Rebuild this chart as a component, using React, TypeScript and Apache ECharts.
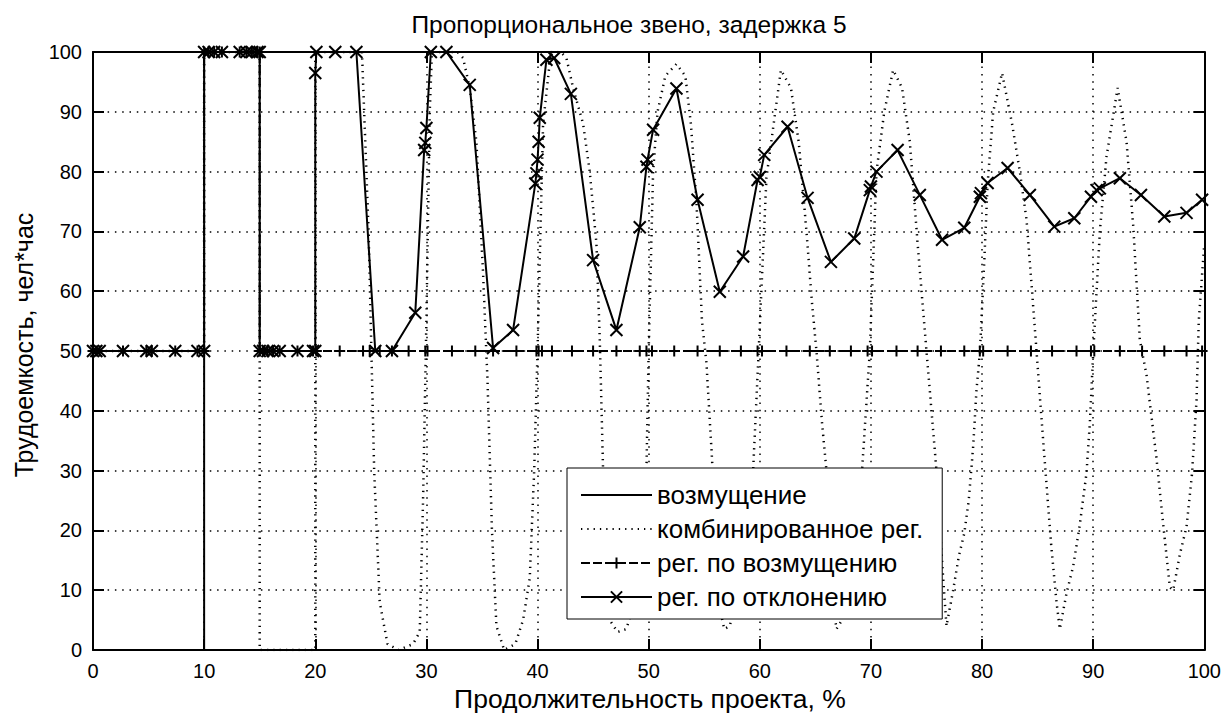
import React, { useEffect, useRef } from 'react';
import * as echarts from 'echarts';

const FONT = '"Liberation Sans", Arial, sans-serif';

const titleText = 'Пропорциональное звено, задержка 5';
const xName = 'Продолжительность проекта, %';
const yName = 'Трудоемкость, чел*час';
const seriesNames = ['возмущение', 'комбинированное рег.', 'рег. по возмущению', 'рег. по отклонению'];

// возмущение
const disturbance: number[][] = [[0, 50], [10, 50], [10, 0], [100, 0]];

// комбинированное рег.
const combined: number[][] = [
  [0, 50], [10, 50], [10, 100], [15, 100], [15, 0], [20, 0], [20, 100], [24.2, 100], [24.8, 70], [25.3, 30],
  [25.8, 8], [26.5, 1], [27.5, 0], [28.8, 1], [29.4, 3], [29.7, 25], [30, 55], [30.3, 90], [30.5, 100],
  [32.8, 100], [33.3, 99], [33.9, 94], [34.5, 85], [35.1, 63], [35.5, 45], [35.9, 20], [36.3, 4], [37, 0],
  [38, 1], [38.7, 5], [39.3, 12], [39.7, 30], [40, 50], [40.5, 88], [41.2, 100], [42.1, 100], [42.6, 99],
  [43.2, 94], [44.1, 88], [44.7, 80], [45.3, 68], [45.6, 52], [45.9, 30], [46.5, 5], [47.2, 3], [48, 3.5],
  [48.7, 8], [49.3, 14], [49.8, 30], [50, 50], [50.4, 80], [50.8, 90], [51.5, 96], [52.5, 98], [53.3, 96],
  [53.8, 88], [54.3, 75], [54.8, 55], [55.2, 48], [55.7, 32], [56.4, 7], [56.8, 3.5], [57.3, 4], [58, 10],
  [58.8, 20], [59.4, 30], [59.9, 50], [60.6, 79], [61.9, 97], [62.8, 94], [63.5, 85], [64.2, 70], [64.7, 58],
  [65.1, 50], [65.6, 38], [66, 30], [66.6, 8], [66.9, 3.5], [67.4, 5], [68.2, 12], [69.2, 30], [69.9, 50],
  [70.5, 80], [71.2, 90], [72, 97], [72.8, 94], [73.5, 85], [74.2, 68], [75, 50], [75.9, 30], [76.5, 12],
  [76.8, 4], [77.4, 10], [77.9, 15.6], [78.4, 19.5], [78.8, 25], [79.2, 34], [79.5, 43.5], [79.8, 49.6],
  [80.2, 65], [80.5, 78], [81, 90], [81.8, 96.5], [82.7, 88], [83.4, 80], [84, 72], [84.5, 60], [84.9, 50],
  [85.5, 35], [86.2, 18], [86.7, 8], [87, 3.5], [87.6, 9.5], [88.2, 14], [88.8, 21], [89.4, 29.6], [89.7, 38],
  [90, 49.6], [90.6, 70], [91.2, 82.5], [92.2, 94], [93, 85], [93.6, 71], [94.2, 51.8], [94.8, 46], [95.7, 32],
  [96.3, 21], [96.9, 10.5], [97.2, 10], [97.8, 16], [98.4, 20.6], [98.9, 29.6], [99.3, 41.8], [99.5, 55], [100, 68],
];

// рег. по возмущению
const regByDisturbance: number[][] = [
  [0, 50], [0.3, 50], [0.6, 50], [2.7, 50], [4.8, 50], [5.3, 50], [7.4, 50], [9.4, 50], [10, 50], [10, 100],
  [10.4, 100], [10.9, 100], [11.6, 100], [13.2, 100], [13.8, 100], [14.3, 100], [14.8, 100], [15, 100], [15, 50],
  [15.3, 50], [15.7, 50], [16.2, 50], [16.8, 50], [18.4, 50], [19.8, 50], [20.1, 50], [22.2, 50], [24.3, 50],
  [24.9, 50], [25.8, 50], [26.9, 50], [28.4, 50], [29.9, 50], [30.1, 50], [32.3, 50], [34.4, 50], [36, 50],
  [38.1, 50], [39.9, 50], [40.1, 50], [40.4, 50], [41.3, 50], [43.1, 50], [45, 50], [47.1, 50], [49.2, 50],
  [49.8, 50], [50.3, 50], [52.3, 50], [54.4, 50], [56.4, 50], [58.3, 50], [59.8, 50], [60.2, 50], [62.4, 50],
  [64.5, 50], [66.3, 50], [68.2, 50], [69.7, 50], [70.1, 50], [72.3, 50], [74.2, 50], [76.3, 50], [78.4, 50],
  [79.8, 50], [80.1, 50], [82.3, 50], [84.4, 50], [86.3, 50], [88.5, 50], [89.8, 50], [90.1, 50], [92.4, 50],
  [94.4, 50], [96.4, 50], [98.4, 50], [99.8, 50],
];

// рег. по отклонению
const regByDeviation: number[][] = [
  [0, 50], [0.3, 50], [0.6, 50], [2.7, 50], [4.8, 50], [5.3, 50], [7.4, 50], [9.4, 50], [10, 50], [10, 100],
  [10.4, 100], [10.9, 100], [11.6, 100], [13.2, 100], [13.8, 100], [14.3, 100], [14.8, 100], [15, 100], [15, 50],
  [15.3, 50], [15.7, 50], [16.2, 50], [16.8, 50], [18.4, 50], [19.8, 50], [20, 50], [20, 96.5], [20.1, 100],
  [21.8, 100], [23.7, 100], [25.4, 50], [26.9, 50], [29.0, 56.4], [29.8, 83.6], [29.9, 84.8], [30.0, 87.3],
  [30.4, 100], [31.8, 100], [33.9, 94.5], [36.0, 50.5], [37.8, 53.5], [39.8, 78], [39.9, 79.7], [40.0, 82],
  [40.1, 85], [40.2, 89], [40.8, 98.7], [41.5, 99], [43.0, 93], [45.0, 65.2], [47.1, 53.5], [49.2, 70.7],
  [49.8, 80.8], [49.9, 82], [50.4, 87], [52.5, 93.9], [54.4, 75.3], [56.4, 59.9], [58.5, 65.8], [59.8, 78.6],
  [60.0, 79.1], [60.4, 82.8], [62.5, 87.5], [64.3, 75.6], [66.4, 64.9], [68.5, 68.8], [69.9, 76.9], [70.0, 77.5],
  [70.5, 80], [72.4, 83.6], [74.4, 76.1], [76.4, 68.6], [78.4, 70.6], [79.8, 75.8], [79.9, 76.4], [80.5, 78.1],
  [82.3, 80.6], [84.3, 76.1], [86.5, 70.8], [88.3, 72.2], [89.8, 75.8], [90.3, 76.9], [90.6, 77.2], [92.4, 78.9],
  [94.3, 76.1], [96.4, 72.5], [98.4, 73.1], [99.8, 75.3],
];

const X_MARK = 'path://M0,0L10,10M10,0L0,10';
const PLUS_MARK = 'path://M5,0L5,10M0,5L10,5';

function axisCommon(position: string, showLabel: boolean, showSplit: boolean) {
  return {
    type: 'value',
    min: 0,
    max: 100,
    interval: 10,
    position,
    axisLine: { show: true, onZero: false, lineStyle: { color: '#000', width: 2 } },
    axisTick: { show: true, inside: true, length: 11, lineStyle: { color: '#000', width: 2 } },
    axisLabel: { show: showLabel, fontSize: 20, color: '#000', margin: 11, fontFamily: FONT },
    splitLine: {
      show: showSplit,
      lineStyle: { color: '#000', width: 1.5, type: [1.5, 5.8] },
    },
  };
}

const HIDDEN_SYMBOL = { color: 'rgba(0,0,0,0)', borderWidth: 0, borderColor: 'rgba(0,0,0,0)' };

export default function App() {
  const ref = useRef<HTMLDivElement>(null);
  useEffect(() => {
    if (!ref.current) return;
    const chart = echarts.init(ref.current, null, { renderer: 'svg' });
    const option = {
      animation: false,
      backgroundColor: '#fff',
      grid: { left: 93, right: 19, top: 52, bottom: 67, containLabel: false },
      xAxis: [axisCommon('bottom', true, true), axisCommon('top', false, false)],
      yAxis: [axisCommon('left', true, true), axisCommon('right', false, false)],
      legend: {
        orient: 'vertical',
        left: 567,
        top: 468,
        data: [
          { name: seriesNames[0], itemStyle: HIDDEN_SYMBOL },
          { name: seriesNames[1], itemStyle: HIDDEN_SYMBOL },
          { name: seriesNames[2] },
          { name: seriesNames[3] },
        ],
        selectedMode: false,
        backgroundColor: '#fff',
        borderColor: '#000',
        borderWidth: 1,
        borderRadius: 0,
        padding: [14, 19, 9, 13],
        itemWidth: 71,
        itemHeight: 14,
        itemGap: 8,
        textStyle: { fontSize: 26, color: '#000', fontFamily: FONT },
      },
      graphic: [
        {
          type: 'text',
          x: 629,
          y: 24,
          style: { text: titleText, fontSize: 24.5, fontFamily: FONT, fill: '#000', textAlign: 'center', textVerticalAlign: 'middle' },
        },
        {
          type: 'text',
          x: 650,
          y: 699,
          style: { text: xName, fontSize: 26.5, fontFamily: FONT, fill: '#000', textAlign: 'center', textVerticalAlign: 'middle' },
        },
        {
          type: 'text',
          x: 24,
          y: 345,
          rotation: Math.PI / 2,
          style: { text: yName, fontSize: 25, fontFamily: FONT, fill: '#000', textAlign: 'center', textVerticalAlign: 'middle' },
        },
      ],
      series: [
        {
          type: 'line',
          name: seriesNames[0],
          data: disturbance,
          symbol: 'none',
          lineStyle: { color: '#000', width: 2 },
          itemStyle: { color: '#000' },
          z: 2,
        },
        {
          type: 'line',
          name: seriesNames[1],
          data: combined,
          symbol: 'none',
          lineStyle: { color: '#000', width: 2.5, type: [1.3, 5] },
          itemStyle: { color: '#000' },
          z: 3,
        },
        {
          type: 'line',
          name: seriesNames[2],
          data: regByDisturbance,
          symbol: PLUS_MARK,
          symbolSize: 11,
          lineStyle: { color: '#000', width: 2, type: [9, 3] },
          itemStyle: { color: '#000', borderColor: '#000', borderWidth: 2 },
          z: 4,
        },
        {
          type: 'line',
          name: seriesNames[3],
          data: regByDeviation,
          symbol: X_MARK,
          symbolSize: 12,
          lineStyle: { color: '#000', width: 2 },
          itemStyle: { color: '#000', borderColor: '#000', borderWidth: 2 },
          z: 5,
        },
      ],
    };
    chart.setOption(option as any);
    return () => chart.dispose();
  }, []);
  return (
    <div
      ref={ref}
      style={{ position: 'fixed', left: 0, top: 0, width: 1224, height: 717, background: '#fff' }}
    />
  );
}
